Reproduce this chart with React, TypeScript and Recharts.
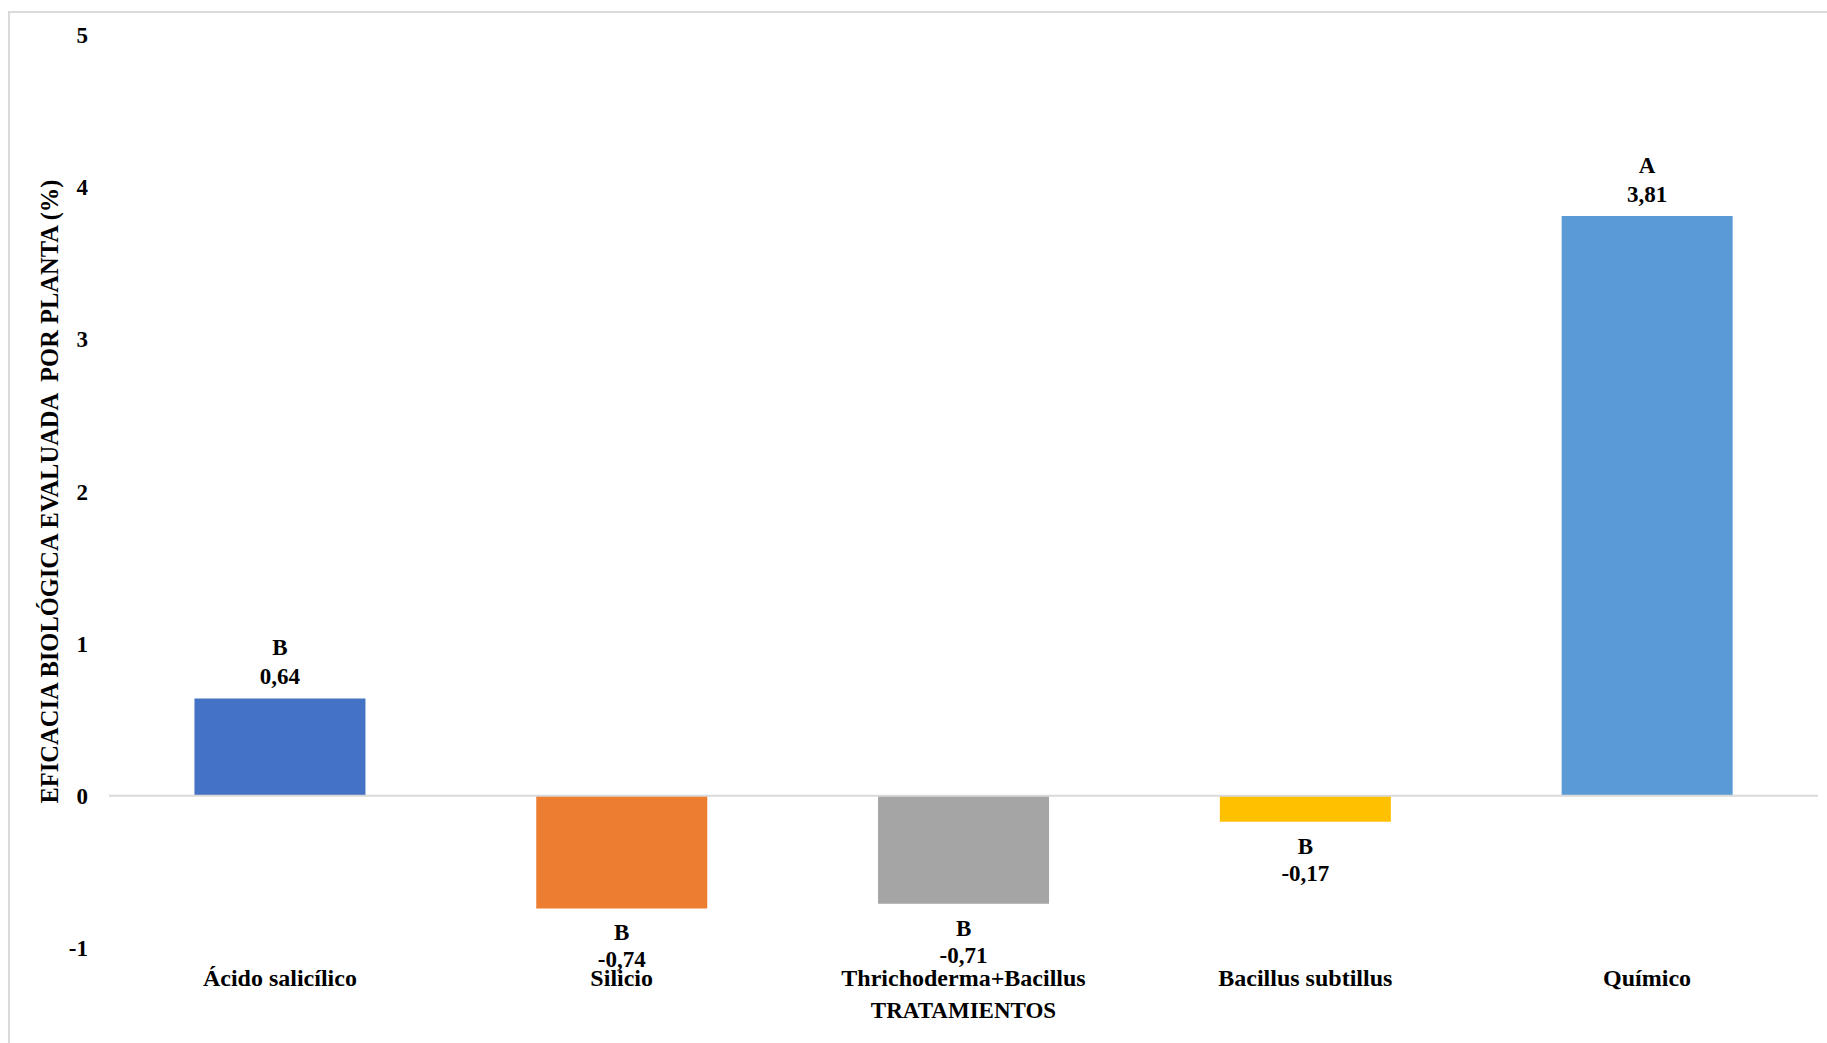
import { Bar, BarChart, Cell, LabelList, ReferenceLine, XAxis, YAxis } from "recharts";

const categories = ["Ácido salicílico", "Silicio", "Thrichoderma+Bacillus", "Bacillus subtillus", "Químico"];
const values = [0.64, -0.74, -0.71, -0.17, 3.81];
const groups = ["B", "B", "B", "B", "A"];
const colors = ["#4472C4", "#ED7D31", "#A5A5A5", "#FFC000", "#5B9BD5"];
const yTicks = [-1, 0, 1, 2, 3, 4, 5];

const data = categories.map((name, i) => ({ name, value: values[i], group: groups[i] }));

const FONT = '"Liberation Serif", "Times New Roman", serif';
const textStyle = { fill: "#000", fontFamily: FONT, fontWeight: 700, fontSize: 23 };

function DataTag(props: any) {
  const vb = props.viewBox ?? props;
  const { x, y, width, height } = vb;
  const idx = props.index;
  const value = values[idx];
  const cx = x + width / 2;
  const top = Math.min(y, y + height);
  const bottom = Math.max(y, y + height);
  const txt = value.toFixed(2).replace(".", ",");
  const lineA = value >= 0 ? top - 51 : bottom + 24;
  const lineB = value >= 0 ? top - 22 : bottom + 51;
  return (
    <g>
      <text x={cx} y={lineA + 8} textAnchor="middle" {...textStyle}>
        {groups[idx]}
      </text>
      <text x={cx} y={lineB + 8} textAnchor="middle" {...textStyle}>
        {txt}
      </text>
    </g>
  );
}

function YTitle(props: any) {
  const vb = props.viewBox;
  const cx = vb.x + 49;
  const cy = vb.y + vb.height / 2;
  return (
    <text
      x={cx}
      y={cy}
      transform={`rotate(-90 ${cx} ${cy})`}
      textAnchor="middle"
      dominantBaseline="central"
      {...textStyle}
      fontSize={24.5}
      style={{ whiteSpace: "pre" }}
    >
      EFICACIA BIOLÓGICA EVALUADA  POR PLANTA (%)
    </text>
  );
}

export default function App() {
  return (
    <div style={{ position: "fixed", left: 0, top: 0, width: 1827, height: 1043, background: "#fff" }}>
      <div
        style={{
          position: "absolute",
          left: 8,
          top: 11,
          width: 1830,
          height: 1040,
          borderLeft: "2px solid #d9d9d9",
          borderTop: "2px solid #d9d9d9",
        }}
      />
      <BarChart
        width={1827}
        height={1043}
        data={data}
        margin={{ top: 35, right: 9, bottom: 20, left: 0 }}
        barCategoryGap="25%"
      >
        <XAxis
          dataKey="name"
          axisLine={false}
          tickLine={false}
          interval={0}
          tickMargin={15}
          height={75}
          tick={{ ...textStyle, fontSize: 24 }}
          label={{ value: "TRATAMIENTOS", position: "insideBottom", offset: 5, ...textStyle }}
        />
        <YAxis
          domain={[-1, 5]}
          ticks={yTicks}
          axisLine={false}
          tickLine={false}
          tickMargin={15}
          width={109}
          tick={textStyle}
          label={{ content: (p: any) => <YTitle {...p} /> }}
        />
        <ReferenceLine y={0} stroke="#d9d9d9" strokeWidth={2} />
        <Bar dataKey="value" isAnimationActive={false}>
          {data.map((d, i) => (
            <Cell key={d.name} fill={colors[i]} />
          ))}
          <LabelList dataKey="value" content={(p: any) => <DataTag {...p} />} />
        </Bar>
      </BarChart>
    </div>
  );
}
